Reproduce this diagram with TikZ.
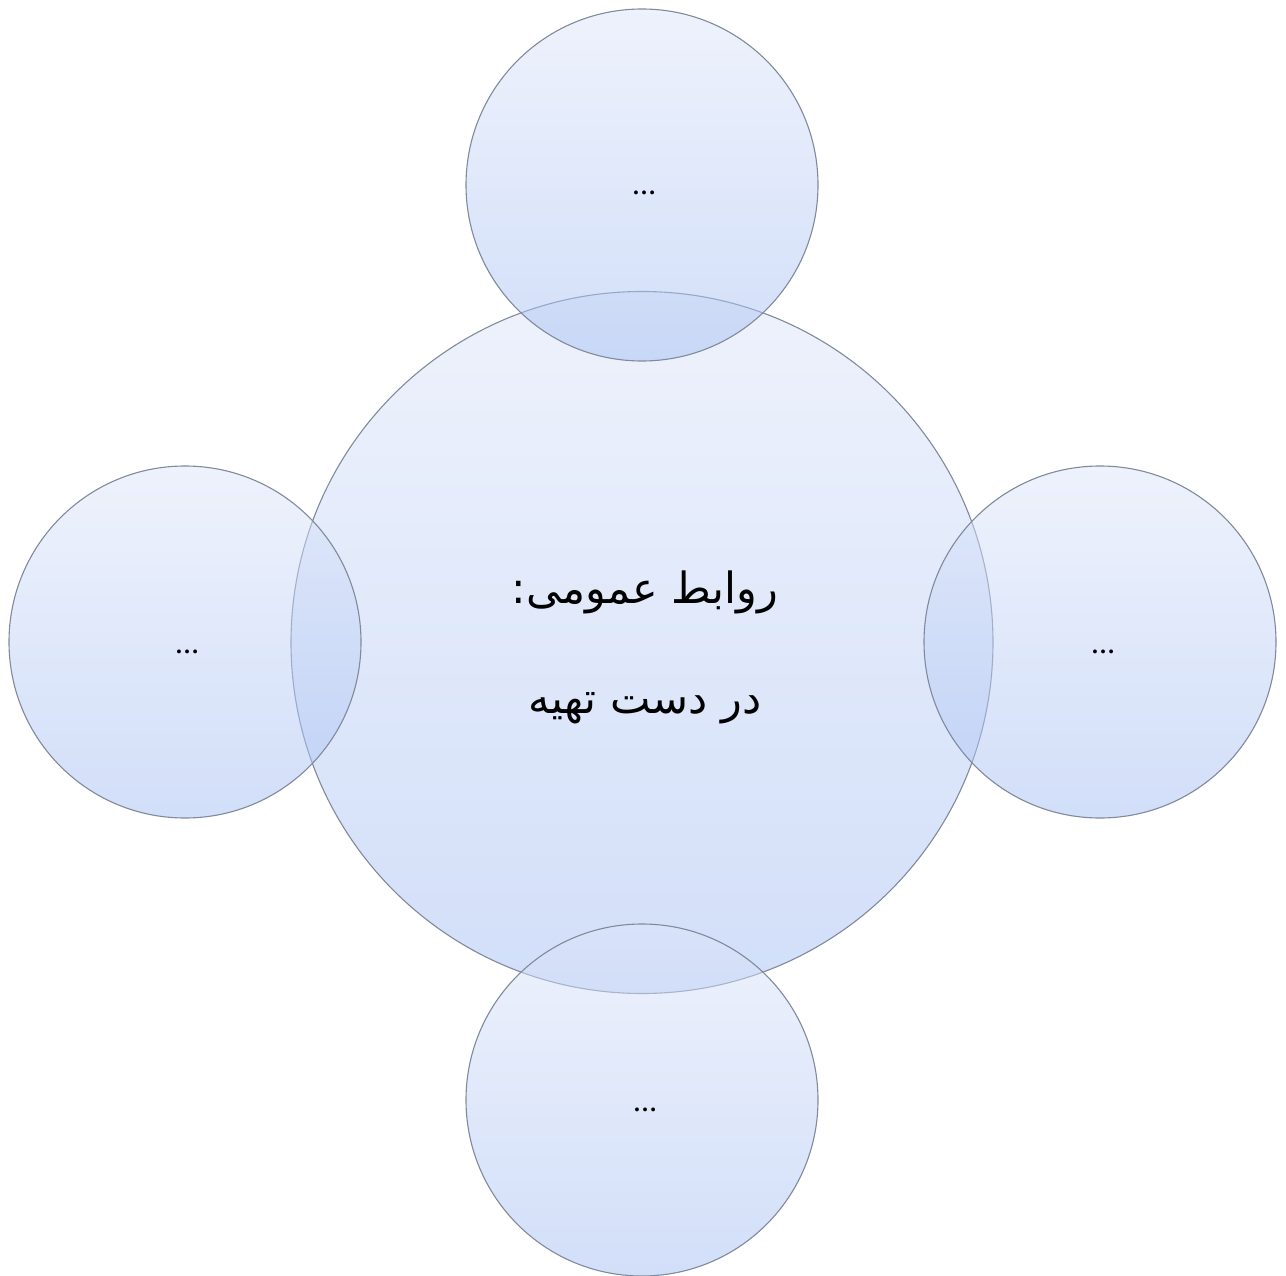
\documentclass[tikz,border=0pt]{standalone}
\usepackage{fontspec}
\setmainfont{Liberation Serif}
\newfontfamily\arabicfont[Script=Arabic]{DejaVu Sans}
\TeXXeTstate=1
\definecolor{bubtop}{RGB}{221,229,249}
\definecolor{bubbot}{RGB}{165,191,243}
\definecolor{bubline}{RGB}{128,138,155}
\tikzset{
  bubble/.style={circle, draw=bubline, line width=1.1pt, top color=bubtop, bottom color=bubbot,
    fill opacity=0.5, draw opacity=1, text opacity=1, inner sep=0pt, outer sep=0pt},
  bigbub/.style={bubble, minimum size=702pt},
  smallbub/.style={bubble, minimum size=352pt},
  dots/.style={font=\bfseries\fontsize{24}{26}\selectfont, text=black, inner sep=0pt, anchor=base},
  arab/.style={inner sep=0pt, anchor=base, font=\arabicfont\fontsize{43}{48}\selectfont}
}
\begin{document}
\begin{tikzpicture}[x=1pt,y=-1pt]
\useasboundingbox (0,0) rectangle (1286,1276);
\node[bigbub] (center) at (642,642.5) {};
\node[smallbub] (top) at (642,185) {};
\node[smallbub] (bottom) at (642,1100) {};
\node[smallbub] (left) at (185,642) {};
\node[smallbub] (right) at (1100,642) {};
\node[dots] (topdots) at (644,195) {…};
\node[dots] (bottomdots) at (645,1111) {…};
\node[dots] (leftdots) at (187,653) {…};
\node[dots] (rightdots) at (1103,653) {…};
\node[arab] (line1) at (645,603) {\beginR روابط عمومی:\endR};
\node[arab] (line2) at (645,713) {\beginR در دست تهیه\endR};
\end{tikzpicture}
\end{document}
